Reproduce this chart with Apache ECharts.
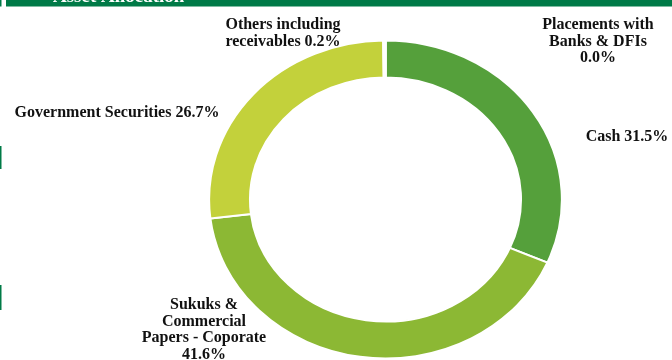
<!DOCTYPE html>
<html>
<head>
<meta charset="utf-8">
<script src="https://cdn.jsdelivr.net/npm/echarts@6/dist/echarts.min.js"></script>
<style>
  html, body { margin: 0; padding: 0; background: #ffffff; }
  #wrap { position: relative; width: 672px; height: 360px; overflow: hidden; }
  /* the ring is drawn as a circle and widened into an ellipse */
  #ring { position: absolute; left: 0; top: 0; width: 672px; height: 360px;
          transform-origin: 385.5px 0; transform: scale(1.11, 1); }
  #text { position: absolute; left: 0; top: 0; width: 672px; height: 360px; }
</style>
</head>
<body>
<div id="wrap"><div id="ring"></div><div id="text"></div></div>
<script>
// Asset allocation (% of net assets)
const categories = [
  'Cash',
  'Sukuks &\nCommercial\nPapers - Coporate',
  'Government Securities',
  'Others including\nreceivables',
  'Placements with\nBanks & DFIs'
];
const values = [31.5, 41.6, 26.7, 0.2, 0.0];
const labelBreaks = [' ', '\n', ' ', ' ', '\n'];
const title = 'Asset Allocation';

// styling / layout
const sliceColors = ['#55A03B', '#8CB834', '#C3D13B', '#FFFFFF', '#FFFFFF'];
const labelAnchors = [[627, 137], [204, 330], [117, 113], [283, 33.5], [598, 41.5]];
const brandGreen = '#007A47';
const CX = 385.5, CY = 199.5;

const pieData = categories.map((name, i) => ({
  name: name,
  value: values[i],
  itemStyle: { color: sliceColors[i] }
}));

// ring
const ring = echarts.init(document.getElementById('ring'), null, { renderer: 'svg' });
ring.setOption({
  animation: false,
  series: [{
    type: 'pie',
    silent: true,
    center: [CX, CY],
    radius: [122, 159],
    startAngle: 90,
    clockwise: true,
    minAngle: 0,
    itemStyle: { borderColor: '#ffffff', borderWidth: 2 },
    label: { show: false },
    labelLine: { show: false },
    data: pieData
  }]
});

// labels and header
const text = echarts.init(document.getElementById('text'), null, { renderer: 'canvas' });
text.setOption({
  animation: false,
  graphic: [
    { type: 'rect', shape: { x: 0, y: 0, width: 1.5, height: 6.5 }, style: { fill: brandGreen } },
    { type: 'rect', shape: { x: 6, y: 0, width: 666, height: 6.5 }, style: { fill: brandGreen } },
    { type: 'rect', shape: { x: 0, y: 146, width: 1.5, height: 23 }, style: { fill: brandGreen } },
    { type: 'rect', shape: { x: 0, y: 285, width: 1.5, height: 25 }, style: { fill: brandGreen } },
    { type: 'text', x: 53, y: 6.5, z: 10,
      style: { text: title, fill: '#ffffff', font: 'bold 19px "Liberation Serif"',
               textAlign: 'left', textVerticalAlign: 'bottom' } }
  ],
  series: [{
    type: 'pie',
    silent: true,
    center: [CX, CY],
    radius: [122, 159],
    startAngle: 90,
    avoidLabelOverlap: false,
    itemStyle: { color: 'transparent', borderWidth: 0 },
    labelLine: { show: false },
    label: {
      show: true,
      position: 'outside',
      color: '#111111',
      fontFamily: 'Liberation Serif',
      fontWeight: 'bold',
      fontSize: 16,
      lineHeight: 16.5,
      align: 'center',
      formatter: (p) => p.name + labelBreaks[p.dataIndex] + p.value.toFixed(1) + '%'
    },
    labelLayout: (p) => {
      const a = labelAnchors[p.dataIndex];
      return { x: a[0], y: a[1], align: 'center', verticalAlign: 'middle' };
    },
    data: categories.map((name, i) => ({ name: name, value: values[i] }))
  }]
});
</script>
</body>
</html>
